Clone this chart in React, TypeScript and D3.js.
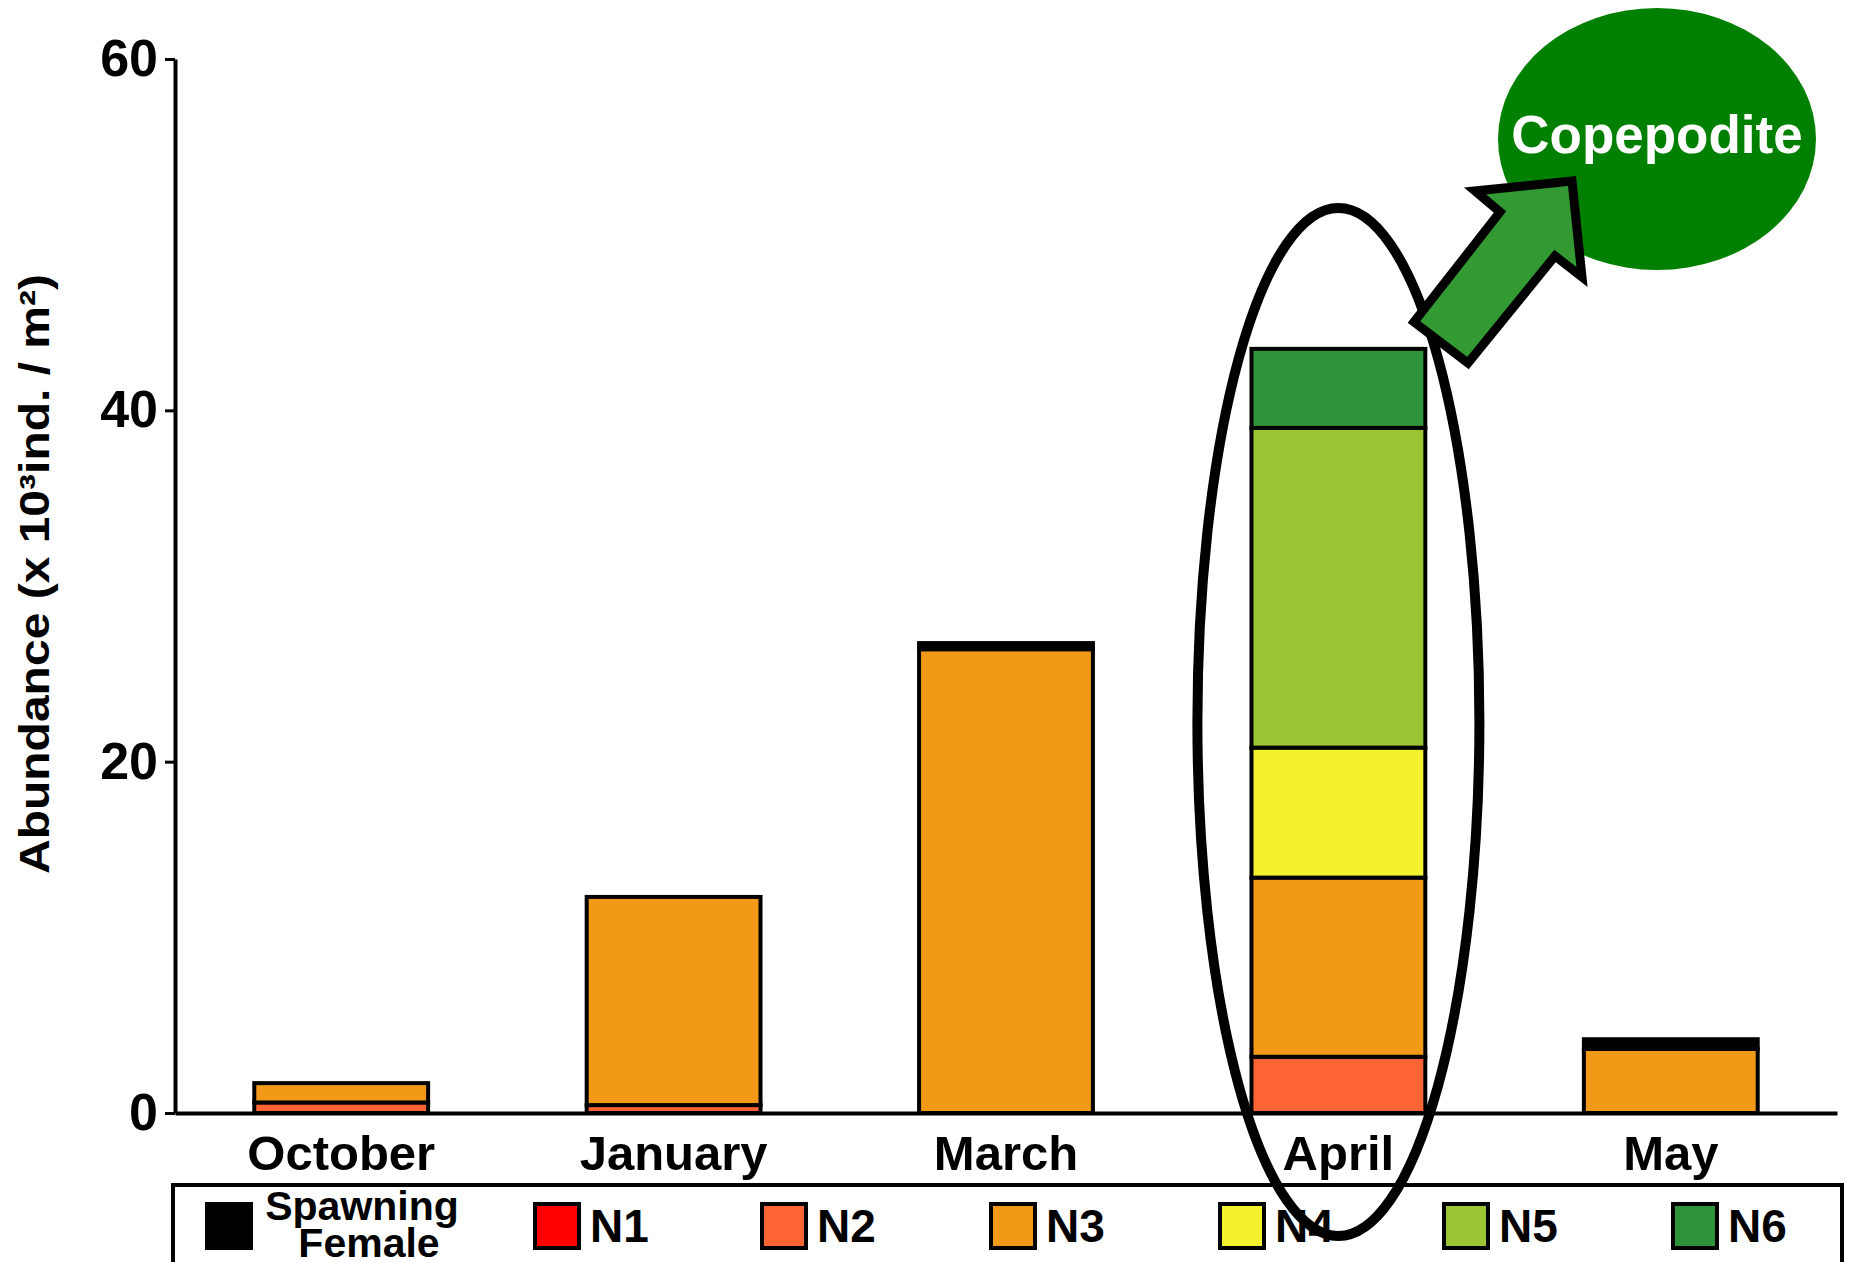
import { useEffect, useRef } from 'react'
import * as d3 from 'd3'

const months = ['October', 'January', 'March', 'April', 'May']

// stack order, bottom to top
const stageKeys = ['N1', 'N2', 'N3', 'N4', 'N5', 'N6', 'SF']
const n1 = [0, 0, 0, 0, 0]
const n2 = [0.6, 0.45, 0, 3.2, 0]
const n3 = [1.1, 11.85, 26.4, 10.2, 3.65]
const n4 = [0, 0, 0, 7.4, 0]
const n5 = [0, 0, 0, 18.2, 0]
const n6 = [0, 0, 0, 4.5, 0]
const spawningFemale = [0, 0, 0.35, 0, 0.55]

const legendKeys = ['SF', 'N1', 'N2', 'N3', 'N4', 'N5', 'N6']
const legendLabels = ['Spawning Female', 'N1', 'N2', 'N3', 'N4', 'N5', 'N6']
const yTicks = [0, 20, 40, 60]

const colors: Record<string, string> = {
  SF: '#000000',
  N1: '#ff0000',
  N2: '#fc6434',
  N3: '#f29a18',
  N4: '#f4f22e',
  N5: '#9bc532',
  N6: '#2e9238',
}

const FONT = 'Liberation Sans, Arial, Helvetica, sans-serif'

export default function App() {
  const svgRef = useRef<SVGSVGElement>(null)

  useEffect(() => {
    const W = 1851
    const H = 1262
    const svg = d3.select(svgRef.current)
    svg.selectAll('*').remove()
    svg.attr('width', W).attr('height', H)

    const x = d3
      .scaleBand<string>()
      .domain(months)
      .range([175, 1837])
      .paddingInner(0.477)
      .paddingOuter(0.2385)
    const y = d3.scaleLinear().domain([0, 60]).range([1113, 59])

    const table = months.map((m, i) => ({
      month: m,
      N1: n1[i],
      N2: n2[i],
      N3: n3[i],
      N4: n4[i],
      N5: n5[i],
      N6: n6[i],
      SF: spawningFemale[i],
    }))
    const series = d3.stack<any>().keys(stageKeys)(table)

    // bars
    series.forEach((s) => {
      svg
        .append('g')
        .selectAll('rect')
        .data(s.filter((d) => d[1] - d[0] > 0))
        .enter()
        .append('rect')
        .attr('x', (d) => x(d.data.month)!)
        .attr('width', x.bandwidth())
        .attr('y', (d) => y(d[1]))
        .attr('height', (d) => y(d[0]) - y(d[1]))
        .attr('fill', colors[s.key])
        .attr('stroke', '#000')
        .attr('stroke-width', 4)
    })

    // y axis
    svg
      .append('g')
      .attr('transform', 'translate(175,0)')
      .call(d3.axisLeft(y).tickValues(yTicks).tickSize(10).tickSizeOuter(0).tickPadding(7))
      .call((a) => {
        a.select('.domain').attr('stroke', '#000').attr('stroke-width', 4)
        a.selectAll('.tick line').attr('stroke', '#000').attr('stroke-width', 3)
        a.selectAll('.tick text')
          .attr('fill', '#000')
          .style('font-family', FONT)
          .style('font-weight', 'bold')
          .style('font-size', '52px')
      })

    // x axis
    svg
      .append('g')
      .attr('transform', 'translate(0,1113)')
      .call(d3.axisBottom(x).tickSize(0).tickSizeOuter(0).tickPadding(22))
      .call((a) => {
        a.select('.domain').attr('stroke', '#000').attr('stroke-width', 4)
        a.selectAll('.tick text')
          .attr('fill', '#000')
          .style('font-family', FONT)
          .style('font-weight', 'bold')
          .style('font-size', '49px')
      })

    // y axis title
    svg
      .append('text')
      .attr('transform', 'translate(49,574) rotate(-90)')
      .attr('text-anchor', 'middle')
      .attr('textLength', 600)
      .attr('lengthAdjust', 'spacingAndGlyphs')
      .style('font-family', FONT)
      .style('font-weight', 'bold')
      .style('font-size', '42px')
      .text('Abundance (x 10³ind. / m²)')

    // legend
    const lg = svg.append('g')
    lg.append('rect')
      .attr('x', 173)
      .attr('y', 1185)
      .attr('width', 1669)
      .attr('height', 90)
      .attr('fill', 'none')
      .attr('stroke', '#000')
      .attr('stroke-width', 4)
    const swatchX = [205, 533, 760, 989, 1218, 1442, 1671]
    legendKeys.forEach((k, i) => {
      lg.append('rect')
        .attr('x', swatchX[i] + 2)
        .attr('y', 1204)
        .attr('width', 44)
        .attr('height', 44)
        .attr('fill', colors[k])
        .attr('stroke', '#000')
        .attr('stroke-width', 4)
      if (k === 'SF') {
        const words = legendLabels[i].split(' ')
        lg.append('text')
          .attr('x', 362)
          .attr('y', 1220)
          .attr('text-anchor', 'middle')
          .style('font-family', FONT)
          .style('font-weight', 'bold')
          .style('font-size', '41px')
          .text(words[0])
        lg.append('text')
          .attr('x', 369)
          .attr('y', 1257)
          .attr('text-anchor', 'middle')
          .style('font-family', FONT)
          .style('font-weight', 'bold')
          .style('font-size', '41px')
          .text(words[1])
      } else {
        lg.append('text')
          .attr('x', swatchX[i] + 57)
          .attr('y', 1242)
          .style('font-family', FONT)
          .style('font-weight', 'bold')
          .style('font-size', '46px')
          .text(legendLabels[i])
      }
    })

    // ellipse highlighting April
    svg
      .append('ellipse')
      .attr('cx', x('April')! + x.bandwidth() / 2)
      .attr('cy', 722)
      .attr('rx', 141)
      .attr('ry', 514)
      .attr('fill', 'none')
      .attr('stroke', '#000')
      .attr('stroke-width', 10)

    // copepodite bubble
    svg
      .append('ellipse')
      .attr('cx', 1657)
      .attr('cy', 139)
      .attr('rx', 159)
      .attr('ry', 131)
      .attr('fill', '#008000')
    svg
      .append('text')
      .attr('x', 1657)
      .attr('y', 153)
      .attr('text-anchor', 'middle')
      .attr('fill', '#fff')
      .style('font-family', FONT)
      .style('font-weight', 'bold')
      .style('font-size', '53px')
      .text('Copepodite')

    // arrow
    const arrow: [number, number][] = [
      [1572, 181],
      [1475, 191],
      [1500, 212],
      [1414, 322],
      [1468, 363],
      [1555, 256],
      [1582, 277],
    ]
    svg
      .append('path')
      .attr('d', d3.line()(arrow) + 'Z')
      .attr('fill', '#339933')
      .attr('stroke', '#000')
      .attr('stroke-width', 9)
      .attr('stroke-linejoin', 'miter')
  }, [])

  return (
    <svg
      ref={svgRef}
      style={{ position: 'absolute', left: 0, top: 0, background: '#fff' }}
    />
  )
}
